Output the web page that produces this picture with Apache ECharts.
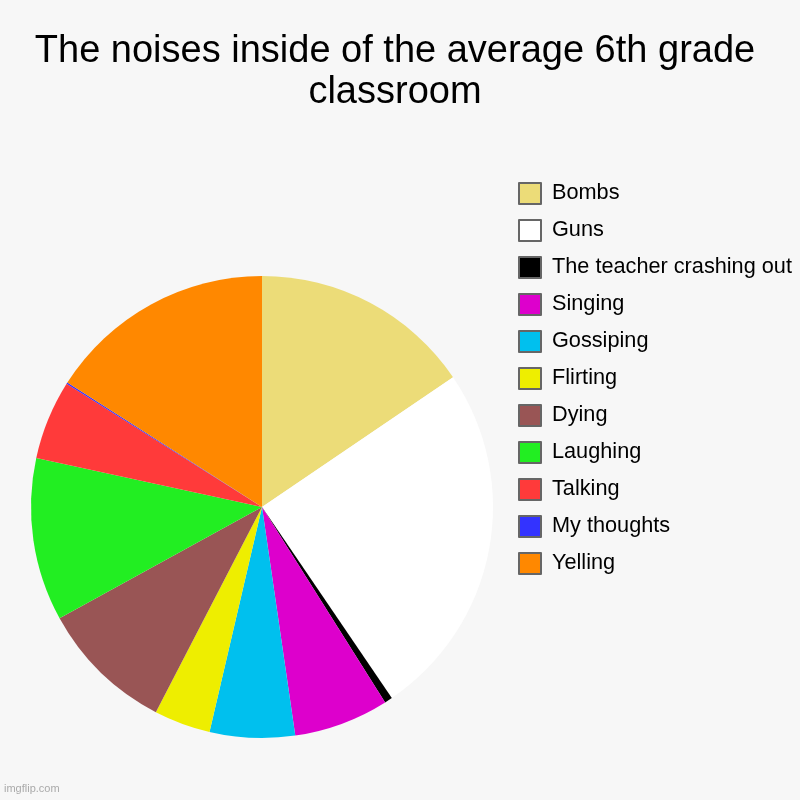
<!DOCTYPE html>
<html lang="en">
<head>
    <meta charset="UTF-8">
    <title>The noises inside of the average 6th grade classroom</title>
    <script src="https://cdn.jsdelivr.net/npm/echarts@6/dist/echarts.min.js"></script>
    <style>
        * { margin: 0; padding: 0 }
        html, body { width: 100%; height: 100%; background: #f7f7f7; }
        #noises { width: 800px; height: 800px; }
    </style>
</head>
<body>
<div id="noises"></div>
<script>
    // slices, clockwise from 12 o'clock
    var categories = ['Bombs', 'Guns', 'The teacher crashing out', 'Singing', 'Gossiping',
        'Flirting', 'Dying', 'Laughing', 'Talking', 'My thoughts', 'Yelling'];
    var values = [15.5, 25, 0.55, 6.65, 5.95, 3.95, 9.4, 11.4, 5.55, 0.1, 15.95];
    var colors = ['#ecdc78', '#ffffff', '#000000', '#dd00cc', '#00c0ee',
        '#eeee00', '#995555', '#22ee22', '#ff3a3a', '#3333ff', '#ff8800'];

    var pieData = [];
    for (var i = 0; i < categories.length; i++) {
        pieData.push({name: categories[i], value: values[i], itemStyle: {color: colors[i]}});
    }

    var myChart = echarts.init(document.getElementById('noises'));

    var option = {
        backgroundColor: '#f7f7f7',
        animation: false,
        title: {
            text: 'The noises inside of the average 6th grade\nclassroom',
            left: 395,
            textAlign: 'center',
            top: 31,
            padding: 0,
            textStyle: {
                fontFamily: 'Liberation Sans',
                fontSize: 38,
                fontWeight: 'normal',
                color: '#000',
                lineHeight: 41
            }
        },
        legend: {
            orient: 'vertical',
            left: 518,
            top: 182,
            padding: 0,
            itemWidth: 22,
            itemHeight: 21,
            itemGap: 14,
            icon: 'rect',
            data: categories,
            itemStyle: {borderColor: '#666', borderWidth: 2},
            textStyle: {
                fontFamily: 'Liberation Sans',
                fontSize: 21.7,
                lineHeight: 22,
                color: '#000',
                padding: [0, 0, 0, 6]
            }
        },
        graphic: [{
            type: 'text',
            left: 4,
            top: 783,
            style: {text: 'imgflip.com', fill: '#aaa', font: '11px Liberation Sans'}
        }],
        series: [{
            type: 'pie',
            center: [262, 507],
            radius: 231,
            startAngle: 90,
            clockwise: true,
            label: {show: false},
            labelLine: {show: false},
            emphasis: {disabled: true},
            itemStyle: {borderWidth: 0},
            data: pieData
        }]
    };

    myChart.setOption(option);
</script>
</body>
</html>
